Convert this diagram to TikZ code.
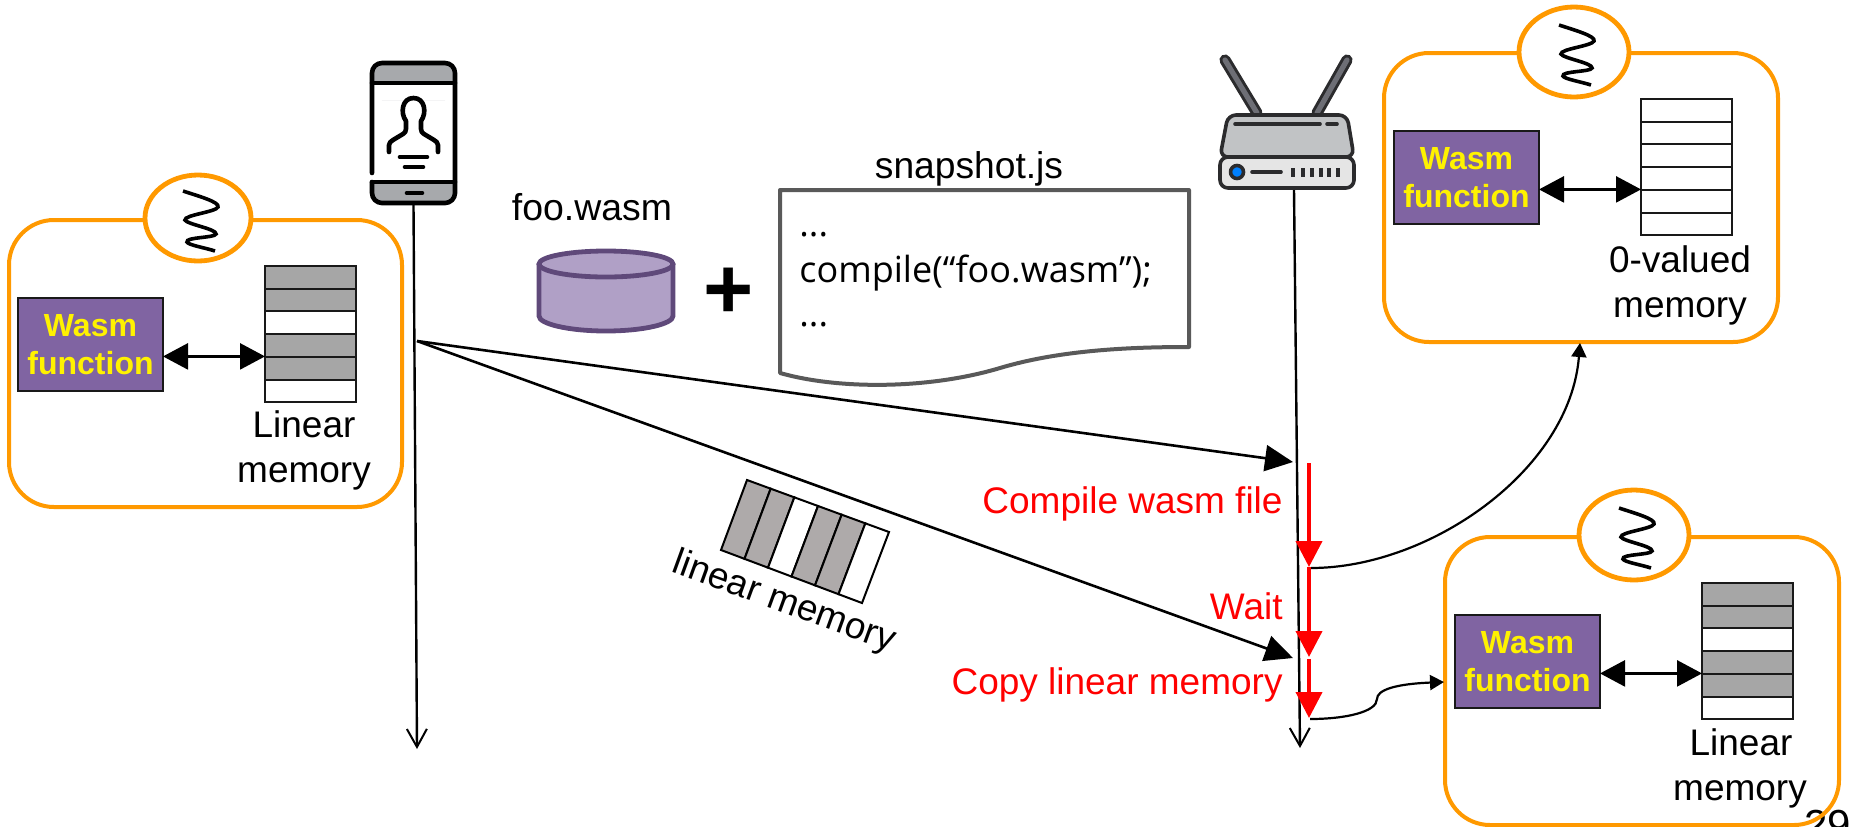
\documentclass[tikz,border=0pt]{standalone}
\usepackage{fontspec}
\setmainfont{Liberation Sans}
\newfontfamily\docfont{Open Sans}
\usetikzlibrary{arrows.meta,calc,shapes.geometric}
\definecolor{cardorange}{HTML}{FF9900}
\definecolor{wasmpurple}{HTML}{8064A2}
\definecolor{memgray}{HTML}{A6A6A6}
\definecolor{tapegray}{HTML}{AEAAAA}
\definecolor{cylfill}{HTML}{B0A0C6}
\definecolor{cylline}{HTML}{5F497A}
\definecolor{docline}{HTML}{595959}
\definecolor{icongray}{HTML}{A7A9AC}
\definecolor{dark}{HTML}{2B2B2D}
\definecolor{antenna}{HTML}{6D6E75}
\newcommand{\fs}[1]{\fontsize{#1}{19}\selectfont}
\tikzset{
  x=0.5pt,y=-0.5pt,
  card/.style={draw=cardorange,line width=2pt,rounded corners=22.5pt},
  threadring/.style={draw=cardorange,line width=2.4pt,fill=white,ellipse,inner sep=0pt},
  squiggle/.style={line width=1.8pt,black},
  wasmbox/.style={draw=black!90,line width=1pt,fill=wasmpurple,text=yellow,font=\bfseries\fs{16},
    minimum width=72.5pt,minimum height=46.5pt,inner sep=0pt,align=center,anchor=north west},
  memrow/.style={draw=black!90,line width=1pt},
  dbl/.style={{Triangle[length=12.5pt,width=13pt]}-{Triangle[length=12.5pt,width=13pt]},line width=1.3pt,shorten <=-0.5pt},
  label/.style={font=\fs{18.5},anchor=base,inner sep=0pt,text=black},
  redlabel/.style={font=\fs{18.5},anchor=base east,inner sep=0pt,text=red},
  life/.style={-{Straight Barb[length=9pt,width=10pt,line width=1pt]},line width=1.2pt},
  msg/.style={-{Triangle[length=14pt,width=13pt]},line width=1.3pt},
  redstep/.style={red,-{Triangle[length=13pt,width=13pt]},line width=2pt},
  thin arrow/.style={-{Triangle[length=7pt,width=7.5pt]},line width=1.1pt},
  icon/.style={line width=2.3pt,black,line cap=round,line join=round},
  routerline/.style={line width=1.8pt,dark,line cap=round,line join=round},
}
\newcommand{\memblock}[4]{%
  \foreach \i/\c in {#4}{\draw[memrow,fill=\c] (#2,{#3+\i*22.7}) rectangle ++(91,22.7);}
  \coordinate (#1) at (#2,{#3+4*22.6});}
\newcommand{\squig}[1]{%
  \draw[squiggle,shift={(#1)}] (-15,-27) .. controls (0,-22) and (22,-16) .. (20,-11)
    .. controls (18,-6) and (-14,-3) .. (-13,2) .. controls (-12,6) and (19,11) .. (18,16)
    .. controls (17,20) and (-13,19) .. (-11,24) .. controls (-10,27) and (8,30) .. (17,33);}
\begin{document}
\begin{tikzpicture}
\useasboundingbox (0,0) rectangle (1858,826);
% page number, cut by the page edge
\begin{scope}
\clip (0,0) rectangle (1858,826);
\node[font=\fs{21},anchor=base west,inner sep=0pt] (pageno) at (1804,839) {29};
\end{scope}

% left card
\draw[card] (9,220) rectangle (402,507);
\node[threadring,minimum width=53pt,minimum height=43pt] (ringA) at (198,218) {};
\squig{198,218}
\node[wasmbox] (wA) at (17,297) {Wasm\\function};
\memblock{mA}{265}{266}{0/memgray,1/memgray,2/white,3/memgray,4/memgray,5/white}
\draw[dbl] (wA.east |- mA) -- (mA);
\node[label] (lA1) at (304,437) {Linear};
\node[label] (lA2) at (304,482) {memory};

% top right card
\draw[card] (1384,53) rectangle (1778,342);
\node[threadring,minimum width=55pt,minimum height=45pt] (ringB) at (1574,52) {};
\squig{1574,52}
\node[wasmbox] (wB) at (1393,130) {Wasm\\function};
\memblock{mB}{1641}{99}{0/white,1/white,2/white,3/white,4/white,5/white}
\draw[dbl] (wB.east |- mB) -- (mB);
\node[label] (lB1) at (1680,272) {0-valued};
\node[label] (lB2) at (1680,317) {memory};

% bottom right card
\draw[card] (1445,537) rectangle (1839,825);
\node[threadring,minimum width=55pt,minimum height=45pt] (ringC) at (1634,535) {};
\squig{1634,535}
\node[wasmbox] (wC) at (1454,614) {Wasm\\function};
\memblock{mC}{1702}{583}{0/memgray,1/memgray,2/white,3/memgray,4/memgray,5/white}
\draw[dbl] (wC.east |- mC) -- (mC);
\node[label] (lC1) at (1741,755) {Linear};
\node[label] (lC2) at (1740,800) {memory};

% phone icon
\fill[icongray,rounded corners=5pt] (372,63) rectangle (455,100);
\fill[white] (372,83) rectangle (455,100);
\fill[icongray,rounded corners=5pt] (372,170) rectangle (455,203);
\fill[white] (372,170) rectangle (455,182);
\draw[icon,rounded corners=5pt] (372,173) -- (372,63) -- (455,63) -- (455,203) -- (372,203) -- (372,182);
\draw[icon] (372,182) -- (455,182);
\draw[icon] (372,83) -- (455,83);
\draw[icon] (389,152) -- (389,145) .. controls (389,143) and (391,141) .. (393,140) -- (403,134)
  .. controls (405,133) and (406,131) .. (406,129) -- (406,121)
  .. controls (400,113) and (402,98) .. (413.5,98) .. controls (425,98) and (427,113) .. (421,121)
  -- (421,129) .. controls (421,131) and (422,133) .. (424,134) -- (434,140)
  .. controls (436,141) and (438,143) .. (438,145) -- (438,152);
\draw[icon] (400,157) -- (427,157);
\draw[icon] (405,167) -- (423,167);
\draw[icon] (407,193) -- (422,193);
\coordinate (phone) at (413.5,205);

% router icon
\foreach \xa/\xb in {1225/1257,1347/1317}{
  \draw[dark,line width=5.6pt,line cap=round] (\xa,60) -- (\xb,113);
  \draw[antenna,line width=2.6pt,line cap=round] (\xa,60) -- (\xb,113);}
\draw[routerline,fill=icongray!70!white,rounded corners=4pt] (1220,157) -- (1228,115) -- (1347,115) -- (1354,157) -- cycle;
\draw[routerline,fill=black!10,rounded corners=4pt] (1220,157) rectangle (1354,188);
\draw[routerline] (1235,124) -- (1320,124);
\draw[routerline] (1327,124) -- (1337,124);
\draw[routerline,fill=blue!50!cyan] (1237,172) circle[radius=6.5];
\draw[routerline] (1252,172) -- (1281,172);
\foreach \x in {1293,1303,1312,1321,1329,1338}{\draw[dark,line width=1.8pt] (\x,168) -- (\x,177);}
\coordinate (router) at (1294,190);

% lifelines
\coordinate (phoneEnd) at (417,749);
\coordinate (routerEnd) at (1300,748);
\draw[life] (phone) -- (phoneEnd);
\draw[life] (router) -- (routerEnd);

% messages
\coordinate (send) at (417,341);
\coordinate (tipA) at (1293,462);
\coordinate (tipB) at (1293,658);
\draw[msg] (send) -- (tipA);
\draw[msg] (send) -- (tipB);

% red steps
\coordinate (s0) at (1309,463);
\coordinate (s1) at (1309,567);
\coordinate (s2) at (1309,657);
\coordinate (s2b) at (1309,659);
\coordinate (s3) at (1309,718);
\draw[redstep] (s0) -- (s1);
\draw[redstep] (s1) -- (s2);
\draw[redstep] (s2b) -- (s3);
\node[redlabel] (rA) at (1283,513) {Compile wasm file};
\node[redlabel] (rB) at (1283,619) {Wait};
\node[redlabel] (rC) at (1283,694) {Copy linear memory};

% curved connectors
\coordinate (cardBin) at (1580,343);
\coordinate (cardCin) at (1444,682);
\draw[thin arrow] (s1) ++(2,1) .. controls (1430,568) and (1570,470) .. (cardBin);
\draw[thin arrow] (s3) ++(1,1) .. controls (1345,719) and (1377,712) .. (1377,699)
  .. controls (1377,690) and (1395,684) .. (cardCin);

% foo.wasm cylinder
\node[label,font=\fs{18.7}] (foo) at (592,220) {foo.wasm};
\draw[cylline,line width=2.4pt,fill=cylfill] (539,264) -- (539,316)
  .. controls (539,324) and (569,331) .. (606,331) .. controls (643,331) and (673,324) .. (673,316) -- (673,264);
\draw[cylline,line width=2.4pt,fill=cylfill] (606,264) ellipse[x radius=67,y radius=13];
\node[font=\bfseries\fs{43},anchor=center,inner sep=0pt] (plus) at (729,293) {+};

% snapshot.js document
\node[font=\fs{18.6},anchor=base,inner sep=0pt] (snap) at (969,178) {snapshot.js};
\draw[docline,line width=2pt,line join=round,fill=white] (780,190) -- (1189,190) -- (1189,347)
  .. controls (1130,347) and (1060,350) .. (1000,368) .. controls (930,389) and (840,390) .. (780,373) -- cycle;
\node[font=\docfont\fs{18},anchor=base west,inner sep=0pt] (d1) at (799,236) {...};
\node[font=\docfont\fs{18},anchor=base west,inner sep=0pt] (d2) at (799,282) {compile(“foo.wasm”);};
\node[font=\docfont\fs{18},anchor=base west,inner sep=0pt] (d3) at (799,326) {...};

% rotated tape of linear memory
\coordinate (ta) at (747,480);
\coordinate (tb) at (889,532);
\coordinate (tc) at (862,603);
\coordinate (td) at (721,550);
\foreach \i/\c in {0/tapegray,1/tapegray,2/white,3/tapegray,4/tapegray,5/white}{
  \pgfmathsetmacro{\u}{\i/6}\pgfmathsetmacro{\v}{(\i+1)/6}
  \draw[black,line width=1pt,fill=\c] ($(ta)!\u!(tb)$) -- ($(ta)!\v!(tb)$) -- ($(td)!\v!(tc)$) -- ($(td)!\u!(tc)$) -- cycle;}
\node[font=\fs{18.5},rotate=-20,inner sep=0pt] (tapeLabel) at (784,603) {linear memory};
\end{tikzpicture}
\end{document}
